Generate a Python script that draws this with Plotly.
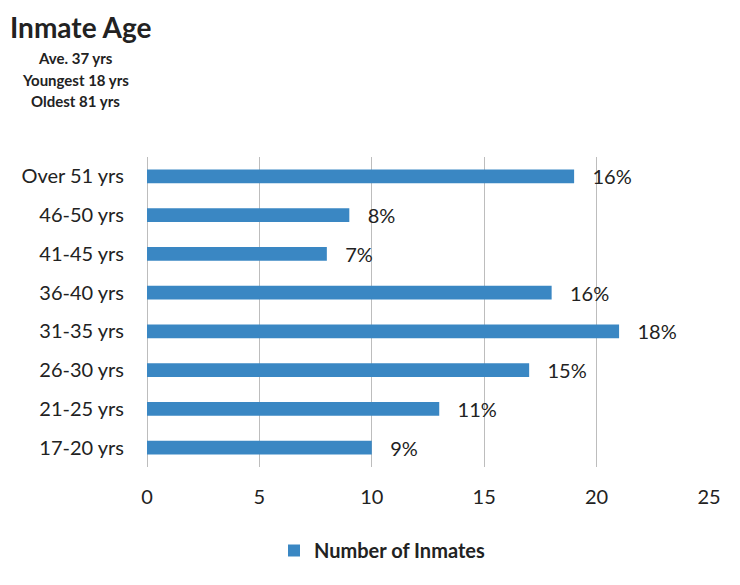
import plotly.graph_objects as go

categories = ["17-20 yrs", "21-25 yrs", "26-30 yrs", "31-35 yrs", "36-40 yrs", "41-45 yrs", "46-50 yrs", "Over 51 yrs"]
counts = [10, 13, 17, 21, 18, 8, 9, 19]
pct_labels = ["9%", "11%", "15%", "18%", "16%", "7%", "8%", "16%"]
x_ticks = [0, 5, 10, 15, 20, 25]

FONT = "Lato, Open Sans, sans-serif"
OFF = 8  # page body margin

fig = go.Figure()
fig.add_trace(go.Bar(
    y=categories, x=counts, orientation="h",
    name="<b>Number of Inmates</b>",
    marker=dict(color="#3a87c3", line=dict(width=0)),
    width=0.36,
    text=pct_labels, texttemplate="   %{text}", textposition="outside",
    textfont=dict(size=20, color="#222222", family=FONT),
    constraintext="none",
    cliponaxis=False,
))

W, H = 740 - OFF, 585 - OFF
ml, mr, mt, mb = 147 - OFF, 31, 157 - OFF, 118
pw, ph = W - ml - mr, H - mt - mb

def px(x):
    return (x - 147) / pw

def py(y):
    return 1 - (y - 157) / ph

fig.update_layout(
    width=W, height=H,
    margin=dict(l=ml, r=mr, t=mt, b=mb),
    paper_bgcolor="white", plot_bgcolor="white",
    font=dict(family=FONT, color="#222222"),
    showlegend=True,
    legend=dict(orientation="h", x=px(382), xanchor="center", y=py(531), yanchor="top",
                font=dict(size=20, color="#222222", family=FONT)),
    xaxis=dict(range=[0, 25], tickvals=x_ticks, showgrid=True, gridcolor="#bdbdbd", gridwidth=1,
               zeroline=True, zerolinecolor="#bdbdbd", zerolinewidth=1,
               tickfont=dict(size=20, color="#222222"), ticks="", showline=False,
               ticklabelstandoff=16),
    yaxis=dict(showgrid=False, ticks="", tickfont=dict(size=20, color="#222222"),
               ticklabelstandoff=22, showline=False),
    bargap=0.64,
    annotations=[
        dict(text="<b>Inmate Age</b>", xref="paper", yref="paper", x=px(8), y=py(27),
             xanchor="left", yanchor="middle", showarrow=False, font=dict(size=28, color="#222222", family=FONT)),
        dict(text="<b>Ave. 37 yrs</b>", xref="paper", yref="paper", x=px(75), y=py(58),
             xanchor="center", yanchor="middle", showarrow=False, font=dict(size=15, color="#222222", family=FONT)),
        dict(text="<b>Youngest 18 yrs</b>", xref="paper", yref="paper", x=px(75), y=py(80),
             xanchor="center", yanchor="middle", showarrow=False, font=dict(size=15, color="#222222", family=FONT)),
        dict(text="<b>Oldest 81 yrs</b>", xref="paper", yref="paper", x=px(75), y=py(101),
             xanchor="center", yanchor="middle", showarrow=False, font=dict(size=15, color="#222222", family=FONT)),
    ],
)

fig.write_html("out.html")
